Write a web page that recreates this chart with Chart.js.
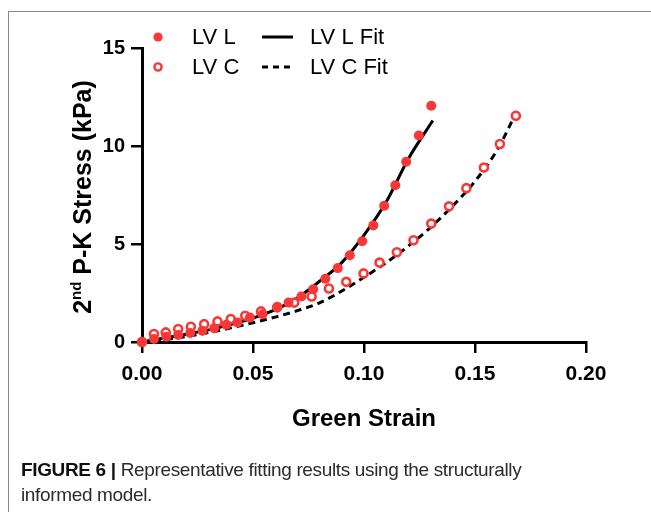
<!DOCTYPE html>
<html>
<head>
<meta charset="utf-8">
<script src="https://cdn.jsdelivr.net/npm/chart.js@4"></script>
<style>
  html, body { margin: 0; padding: 0; background: #fff; }
  #wrap { position: relative; width: 651px; height: 512px; overflow: hidden; }
  #frame { position: absolute; left: 8px; top: 11px; width: 700px; height: 600px;
           border-left: 1px solid #8a8a8a; border-top: 1px solid #8a8a8a; }
  #caption { position: absolute; left: 21px; top: 457px; width: 620px;
             font-family: "Liberation Sans", Arial, sans-serif; font-size: 19px;
             letter-spacing: -0.35px; line-height: 25px; color: #2b2b2b; }
  #caption b { color: #111; }
  canvas { position: absolute; left: 0; top: 0; }
</style>
</head>
<body>
<div id="wrap">
  <div id="frame"></div>
  <canvas id="specChart" width="651" height="512"></canvas>
  <div id="caption"><b>FIGURE 6 |</b> Representative fitting results using the structurally<br>informed model.</div>
</div>
<script>
// values
const strainL = [0, 0.0054, 0.011, 0.0163, 0.0217, 0.0272, 0.0325, 0.038, 0.043, 0.0486, 0.0543, 0.0608, 0.066, 0.0718, 0.0771, 0.0826, 0.0882, 0.0936, 0.0992, 0.1042, 0.1091, 0.1141, 0.119, 0.1247, 0.1303];
const stressL = [0, 0.15, 0.27, 0.36, 0.46, 0.57, 0.70, 0.88, 1.0, 1.25, 1.42, 1.76, 2.01, 2.32, 2.69, 3.23, 3.77, 4.43, 5.14, 5.95, 6.95, 8.0, 9.2, 10.54, 12.05];

const strainC = [0, 0.0054, 0.0107, 0.0163, 0.022, 0.028, 0.034, 0.040, 0.0465, 0.0536, 0.061, 0.0686, 0.0764, 0.0842, 0.092, 0.0998, 0.107, 0.1148, 0.1223, 0.1303, 0.1383, 0.1461, 0.154, 0.1612, 0.1684];
const stressC = [0, 0.41, 0.49, 0.66, 0.78, 0.91, 1.05, 1.17, 1.34, 1.56, 1.78, 2.01, 2.32, 2.73, 3.07, 3.5, 4.05, 4.58, 5.19, 6.04, 6.92, 7.85, 8.9, 10.1, 11.54];

const fitStrainL = [0, 0.01, 0.02, 0.03, 0.04, 0.05, 0.06, 0.07, 0.08, 0.09, 0.10, 0.11, 0.12, 0.131];
const fitStressL = [0, 0.2, 0.4, 0.62, 0.9, 1.22, 1.65, 2.25, 3.1, 4.05, 5.45, 7.15, 9.35, 11.3];

const fitStrainC = [0, 0.01, 0.02, 0.03, 0.04, 0.05, 0.06, 0.07, 0.08, 0.09, 0.10, 0.11, 0.12, 0.13, 0.14, 0.15, 0.16, 0.169];
const fitStressC = [0, 0.12, 0.28, 0.48, 0.72, 0.98, 1.27, 1.6, 2.0, 2.6, 3.3, 4.05, 4.9, 5.85, 6.95, 8.2, 9.8, 11.8];

const xTicks = [0, 0.05, 0.10, 0.15, 0.20];
const yTicks = [0, 5, 10, 15];

const red = 'rgb(250, 55, 55)';
const fam = '"Liberation Sans", Arial, sans-serif';
const pts = (xs, ys) => xs.map((x, i) => ({ x: x, y: ys[i] }));

// axis titles (y one has a superscript) + legend, drawn by hand
const extras = {
    id: 'extras',
    afterDraw(chart) {
        const ctx = chart.ctx;
        const area = chart.chartArea;

        // x axis title
        ctx.save();
        ctx.font = 'bold 24px ' + fam;
        ctx.fillStyle = '#000';
        ctx.textAlign = 'center';
        ctx.textBaseline = 'alphabetic';
        ctx.fillText('Green Strain', (area.left + area.right) / 2, 426);
        ctx.restore();

        // y axis title
        ctx.save();
        ctx.translate(84, 197);
        ctx.rotate(-Math.PI / 2);
        ctx.fillStyle = '#000';
        ctx.textBaseline = 'middle';
        const big = 'bold 25px ' + fam;
        const small = 'bold 15px ' + fam;
        ctx.font = big; const w1 = ctx.measureText('2').width;
        ctx.font = small; const w2 = ctx.measureText('nd').width;
        ctx.font = big; const w3 = ctx.measureText(' P-K Stress (kPa)').width;
        let x = -(w1 + w2 + w3) / 2;
        ctx.textAlign = 'left';
        ctx.font = big; ctx.fillText('2', x, 0); x += w1;
        ctx.font = small; ctx.fillText('nd', x, -7); x += w2;
        ctx.font = big; ctx.fillText(' P-K Stress (kPa)', x, 0);
        ctx.restore();

        // legend
        ctx.save();
        ctx.font = '22px ' + fam;
        ctx.fillStyle = '#000';
        ctx.textBaseline = 'middle';
        ctx.textAlign = 'left';
        const rows = [37, 67];
        ctx.beginPath(); ctx.arc(158, rows[0], 4.6, 0, Math.PI * 2);
        ctx.fillStyle = red; ctx.fill();
        ctx.beginPath(); ctx.arc(158, rows[1], 3.6, 0, Math.PI * 2);
        ctx.lineWidth = 2.4; ctx.strokeStyle = red; ctx.stroke();
        ctx.fillStyle = '#000';
        ctx.fillText('LV L', 192, rows[0] + 1);
        ctx.fillText('LV C', 192, rows[1] + 1);
        ctx.fillText('LV L Fit', 310, rows[0] + 1);
        ctx.fillText('LV C Fit', 310, rows[1] + 1);
        ctx.strokeStyle = '#000'; ctx.lineWidth = 3;
        ctx.beginPath(); ctx.moveTo(262, rows[0]); ctx.lineTo(293, rows[0]); ctx.stroke();
        ctx.setLineDash([6, 5]);
        ctx.beginPath(); ctx.moveTo(262, rows[1]); ctx.lineTo(293, rows[1]); ctx.stroke();
        ctx.restore();
    }
};

const ctx = document.getElementById('specChart').getContext('2d');
const specChart = new Chart(ctx, {
    type: 'scatter',
    data: {
        datasets: [
            {
                label: 'LV L',
                data: pts(strainL, stressL),
                backgroundColor: red,
                borderColor: red,
                pointRadius: 5,
                pointBorderWidth: 0,
                showLine: false,
                clip: false,
                order: 0
            },
            {
                label: 'LV C',
                data: pts(strainC, stressC),
                backgroundColor: '#fff',
                borderColor: red,
                pointRadius: 4,
                pointBorderWidth: 2.6,
                showLine: false,
                clip: false,
                order: 1
            },
            {
                label: 'LV L Fit',
                data: pts(fitStrainL, fitStressL),
                borderColor: '#000',
                borderWidth: 3,
                pointRadius: 0,
                showLine: true,
                cubicInterpolationMode: 'monotone',
                clip: false,
                order: 2
            },
            {
                label: 'LV C Fit',
                data: pts(fitStrainC, fitStressC),
                borderColor: '#000',
                borderWidth: 3,
                borderDash: [7, 5],
                pointRadius: 0,
                showLine: true,
                cubicInterpolationMode: 'monotone',
                clip: false,
                order: 3
            }
        ]
    },
    options: {
        responsive: false,
        animation: false,
        events: [],
        layout: { padding: { left: 0, right: 65, top: 48, bottom: 0 } },
        plugins: { legend: { display: false }, tooltip: { enabled: false } },
        scales: {
            x: {
                type: 'linear',
                min: 0, max: 0.2,
                afterFit: s => { s.height = 170; },
                afterBuildTicks: s => { s.ticks = xTicks.map(v => ({ value: v })); },
                grid: { drawOnChartArea: false, drawTicks: true, tickLength: 11, color: '#000', lineWidth: 2.5 },
                border: { display: true, color: '#000', width: 3 },
                ticks: {
                    color: '#000', padding: 9, maxRotation: 0,
                    font: { family: fam, size: 21, weight: 'bold' },
                    callback: v => v.toFixed(2)
                }
            },
            y: {
                type: 'linear',
                min: 0, max: 15,
                afterFit: s => { s.width = 142; },
                afterBuildTicks: s => { s.ticks = yTicks.map(v => ({ value: v })); },
                grid: { drawOnChartArea: false, drawTicks: true, tickLength: 11, color: '#000', lineWidth: 2.5 },
                border: { display: true, color: '#000', width: 3 },
                ticks: {
                    color: '#000', padding: 6,
                    font: { family: fam, size: 20, weight: 'bold' }
                }
            }
        }
    },
    plugins: [extras]
});
</script>
</body>
</html>
